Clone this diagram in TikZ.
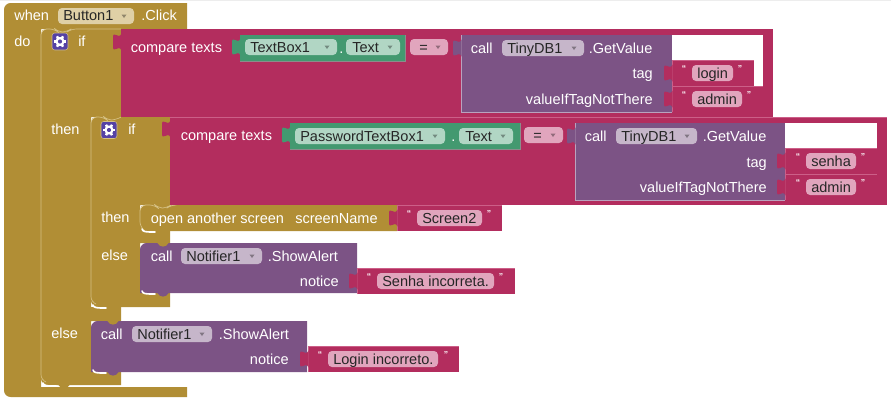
\documentclass[tikz,border=0pt]{standalone}
\usepackage{fontspec}
\usepackage{xcolor}
\setmainfont{Liberation Sans}
\usetikzlibrary{positioning,calc}
\definecolor{ctrlgold}{HTML}{B18E35}
\definecolor{ctrledge}{HTML}{D5C083}
\definecolor{textred}{HTML}{B32D5E}
\definecolor{textedge}{HTML}{CC5F88}
\definecolor{procpurple}{HTML}{7C5385}
\definecolor{procedge}{HTML}{B9A3BE}
\definecolor{compgreen}{HTML}{439970}
\definecolor{chipgold}{HTML}{DFD0A6}
\definecolor{chipred}{HTML}{E1A5BD}
\definecolor{chippurple}{HTML}{C6B6CA}
\definecolor{chipgreen}{HTML}{B1D6C4}
\definecolor{gearblue}{HTML}{5541A5}
\tikzset{
  lbl/.style={font=\fontsize{10.9}{12}\selectfont,text=white,inner sep=0pt,anchor=base west},
  lblr/.style={lbl,anchor=base east},
  chiplbl/.style={lbl,text=black!85},
  quotelbl/.style={font=\fontsize{6.5}{7}\selectfont\bfseries,text=white,inner sep=0pt},
  chipbox/.style={rounded corners=3pt},
  glint/.style={white,line width=1.2pt,line cap=round},
  plug/.pic={\fill[pic actions] (0.5,-8.5) .. controls (-1,-5) and (-3,-6) .. (-5,-7) .. controls (-8,-8) and (-8,-7) .. (-8,-5) -- (-8,5) .. controls (-8,7) and (-8,8) .. (-5,7) .. controls (-3,6) and (-1,5) .. (0.5,8.5) -- cycle;},
  gearbtn/.pic={
    \fill[gearblue,rounded corners=2pt,draw=ctrledge,line width=0.4pt] (-8,-8.5) rectangle (8,8.5);
    \foreach \ang in {0,60,...,300}
      \draw[white,line width=1.8pt] (\ang:3) -- (\ang:6);
    \fill[white] (0,0) circle (4.6);
    \fill[gearblue] (0,0) circle (2.1);
  }
}
\begin{document}
\begin{tikzpicture}[x=0.75pt,y=-0.75pt]
\useasboundingbox (0,0) rectangle (891,407);
\fill[black!7] (0,0) rectangle (891,1.2);
% ---- blocchi di controllo ----
\fill[ctrlgold] [rounded corners=5pt] (4,29) -- (4,3) [sharp corners] -- (187,3) -- (187,29) -- (41,29) -- (41,387) -- (187,387) -- (187,397) [rounded corners=5pt] -- (4,397) -- (4,29) -- cycle;
\fill[ctrlgold] (70,29) -- (121,29) -- (121,117) -- (91,117) -- (91,307) -- (121,307) -- (121,321) -- (91,321) -- (91,372) -- (121,372) -- (121,385) [rounded corners=5pt] -- (41,385) -- (41,29) [sharp corners] -- cycle;
\fill[ctrlgold] (120,117) -- (170,117) -- (170,205) -- (140,205) -- (140,231) -- (170,231) -- (170,243) -- (140,243) -- (140,293) -- (170,293) -- (170,307) [rounded corners=5pt] -- (91,307) -- (91,117) [sharp corners] -- cycle;
\draw[ctrledge,line width=0.5pt,rounded corners=4pt] (46,382) -- (41,380) -- (41,29) -- (55,29) -- (58,32) -- (67,32) -- (71,29) -- (121,29);
\draw[ctrledge,line width=0.5pt,rounded corners=4pt] (96,304) -- (91,302) -- (91,117) -- (104,117) -- (107,120) -- (116,120) -- (121,117);
% open another screen
\fill[ctrlgold] [rounded corners=5pt] (140,231) -- (140,205) [sharp corners] -- (397,205) -- (397,231) -- cycle;
\draw[ctrledge,line width=0.5pt,rounded corners=4pt] (145,231) -- (140,227) -- (140,205) -- (155,205) -- (158,208) -- (167,208) -- (171,205) -- (172,205);
% ---- chiamate ----
\fill[procpurple] [rounded corners=5pt] (140,293) -- (140,243) [sharp corners] -- (357,243) -- (357,293) -- cycle;
\fill[procpurple] [rounded corners=5pt] (91,372) -- (91,321) [sharp corners] -- (307,321) -- (307,372) -- cycle;
% tacche sopra e sotto
\foreach \bx/\by/\col in {163/243/ctrlgold,113/321/ctrlgold,163/293/procpurple,113/307/ctrlgold,163/231/ctrlgold,113/372/procpurple,64/385/ctrlgold}
  \fill[\col] (\bx-6,\by-0.5) .. controls (\bx-3,\by+5) and (\bx+3,\by+5) .. (\bx+6,\by-0.5) -- cycle;
\foreach \gx/\gy in {142/294,142/232,93/308,93/373,43/386}
  \draw[glint] (\gx,\gy-3) .. controls (\gx+1,\gy) and (\gx+3,\gy) .. (\gx+13,\gy);
% ---- confronti testo ----
\fill[textred] (121,29) rectangle (773,117);
\fill[white] (672,35) rectangle (763,112);
\fill[textred] (170,117) rectangle (887,205);
\fill[white] (785,123) rectangle (877,200);
\draw[textedge,line width=0.4pt] (170,117) -- (887,117);
% componenti verdi
\foreach \ax/\bx/\ay/\by in {240/405/35/61,290/520/123/149}
  \fill[compgreen] (\ax,\ay) rectangle (\bx,\by);
\draw[black!45,line width=0.5pt] (405,35) -- (405,61) -- (240,61);
\draw[black!45,line width=0.5pt] (520,123) -- (520,149) -- (290,149);
% get value
\foreach \ax/\bx/\ay/\by in {461/672/35/112,575/785/123/200} {
  \fill[procpurple] (\ax,\ay) rectangle (\bx,\by);
  \draw[procedge,line width=0.4pt] (\ax,\ay) -- (\ax,\by) -- (\bx,\by);
}
% stringhe
\foreach \ax/\bx/\ay in {672/754/60,672/763/86,785/877/148,785/877/174,397/502/205,357/515/268,308/459/346} {
  \fill[textred] (\ax,\ay) rectangle (\bx,\ay+26);
  \draw[textedge,line width=0.4pt] (\ax,\ay+26) -- (\ax,\ay) -- (\bx,\ay);
}
% ---- innesti ----
\foreach \px/\py/\col in {121/42/textred,170/129/textred,240/47/compgreen,290/135/compgreen,461/48/procpurple,575/136/procpurple,672/73/textred,672/99/textred,785/161/textred,785/187/textred,397/218/textred,357/281/textred,308/359/textred}
  \pic[fill=\col] at (\px,\py) {plug};
\pic at (60,41.5) {gearbtn};
\pic at (109,130) {gearbtn};
% ---- campi ----
\foreach \ax/\bx/\cy/\col in {58/134/16/chipgold,245/337/47/chipgreen,346/400/47/chipgreen,295/445/136/chipgreen,459/513/136/chipgreen,410/448/47/chipred,524/563/135/chipred,502/584/48/chippurple,616/697/136/chippurple,181/262/256/chippurple,132/212/334/chippurple} {
  \fill[chipbox,\col] (\ax,\cy-8) rectangle (\bx,\cy+8);
  \fill[\col!65!black] (\bx-12.5,\cy-1.5) -- (\bx-7.5,\cy-1.5) -- (\bx-10,\cy+2) -- cycle;
}
\foreach \ax/\bx/\cy in {692/733/73,692/742/99,806/856/161,806/856/187,417/482/218,377/494/281,328/438/359}
  \fill[chipbox,chipred] (\ax,\cy-8) rectangle (\bx,\cy+8);
% ---- testi ----
\foreach \nm/\tx/\ty/\lab in {when/14/21/when,click/141/21/.Click,do/14/46/do,ifa/78/46/if,cmpa/130.5/52/compare texts,calla/470.5/53/call,getva/588.5/53/.GetValue,dota/339/53/.,thena/51/134/then,ifb/128/134/if,cmpb/180.5/140/compare texts,callb/584.5/141/call,getvb/702.5/141/.GetValue,dotb/451/141/.,thenb/101/222/then,opens/150.5/223/open another screen,scrn/295/223/screenName,elseb/101/260/else,callc/150.5/261/call,alertc/267.5/261/.ShowAlert,elsea/51/338/else,calld/100.5/339/call,alertd/218.5/339/.ShowAlert}
  \node[lbl] (\nm) at (\tx,\ty) {\lab};
\foreach \nm/\tx/\ty/\lab in {taga/653/78/tag,vala/653/104/valueIfTagNotThere,tagb/767/167/tag,valb/767/192/valueIfTagNotThere,noticec/339/286/notice,noticed/289/364/notice}
  \node[lblr] (\nm) at (\tx,\ty) {\lab};
\foreach \nm/\tx/\ty/\lab in {btn/63/21/Button1,tboxa/250/52/TextBox1,txta/352/52/Text,tboxb/300/141/PasswordTextBox1,txtb/465/141/Text,eqa/419/52/=,eqb/533/140/=,dba/507/53/TinyDB1,dbb/621/141/TinyDB1,ntfc/186/261/Notifier1,ntfd/137/339/Notifier1,login/697/78/login,admina/697/104/admin,senha/811/166/senha,adminb/811/192/admin,scrtwo/422/223/Screen2,senhainc/382/286/Senha incorreta.,logininc/333/364/Login incorreto.}
  \node[chiplbl] (\nm) at (\tx,\ty) {\lab};
\foreach \nm/\qa/\qb/\qy in {qlogin/684/740/69,qadmina/684/749/95,qsenha/798/863/157,qadminb/798/863/183,qscr/409/489/214,qsen/369/501/277,qlog/320/446/355} {
  \node[quotelbl] (\nm l) at (\qa,\qy) {“};
  \node[quotelbl] (\nm r) at (\qb,\qy) {”};
}
\end{tikzpicture}
\end{document}
